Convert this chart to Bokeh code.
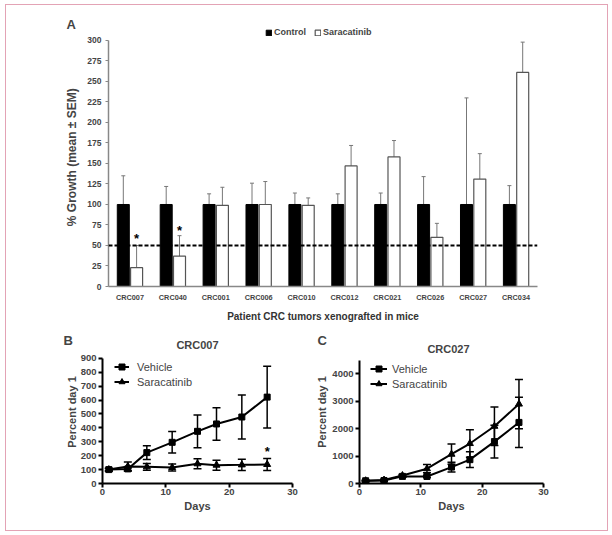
from bokeh.plotting import figure
from bokeh.models import (FactorRange, Range1d, ColumnDataSource, Whisker, TeeHead,
                          Span, Legend, LegendItem, Label, FixedTicker)
from bokeh.transform import dodge
from bokeh.layouts import column, row
from bokeh.embed import file_html
from bokeh.resources import INLINE
from bokeh.core.properties import value

# ---------------- data: panel A ----------------
tumors = ["CRC007", "CRC040", "CRC001", "CRC006", "CRC010",
          "CRC012", "CRC021", "CRC026", "CRC027", "CRC034"]
control_mean = [100, 100, 100, 100, 100, 100, 100, 100, 100, 100]
control_upper = [135, 122, 113, 126, 114, 113, 114, 134, 230, 123]
sara_mean = [23, 37, 99, 100, 99, 147, 158, 60, 131, 261]
sara_upper = [50, 62, 121, 128, 108, 172, 178, 77, 162, 298]
threshold = 50
sig_tumors = ["CRC007", "CRC040"]
sig_y = [58, 68]
a_yticks = [0, 25, 50, 75, 100, 125, 150, 175, 200, 225, 250, 275, 300]

# ---------------- data: panels B and C ----------------
days = [1, 4, 7, 11, 15, 18, 22, 26]
b_veh = [100, 105, 222, 296, 375, 428, 478, 621]
b_veh_err = [10, 15, 50, 77, 118, 117, 158, 222]
b_sara = [100, 123, 120, 115, 142, 132, 134, 137]
b_sara_err = [8, 32, 24, 25, 36, 36, 40, 43]
b_sig_day = [26]
b_sig_y = [232]
b_yticks = [0, 100, 200, 300, 400, 500, 600, 700, 800, 900]

c_veh = [100, 110, 260, 257, 600, 870, 1530, 2230]
c_veh_err = [20, 20, 30, 40, 180, 290, 600, 920]
c_sara = [100, 125, 290, 540, 1070, 1460, 2090, 2900]
c_sara_err = [20, 30, 40, 150, 370, 500, 700, 900]
c_yticks = [0, 1000, 2000, 3000, 4000]
day_ticks = [0, 10, 20, 30]

FONT = "Liberation Sans"

# ---------------- panel A ----------------
srcA = ColumnDataSource(dict(tumor=tumors, control=control_mean, control_upper=control_upper,
                             sara=sara_mean, sara_upper=sara_upper))
# the frame reaches a little above 300 so that the legend fits inside it;
# the axis itself stops at 300
pA = figure(width=601, height=320, x_range=FactorRange(*tumors), y_range=Range1d(0, 319.5),
            output_backend="svg", toolbar_location=None,
            min_border_left=102, min_border_right=70, min_border_top=19, min_border_bottom=39)
pA.outline_line_color = None
pA.grid.grid_line_color = None

off = 0.155
rc = pA.vbar(x=dodge("tumor", -off, range=pA.x_range), top="control", width=0.28, source=srcA,
             fill_color="black", line_color="black")
rs = pA.vbar(x=dodge("tumor", off, range=pA.x_range), top="sara", width=0.28, source=srcA,
             fill_color="white", line_color="#555555", line_width=1.2)
for base_off, lo, up in [(-off, "control", "control_upper"), (off, "sara", "sara_upper")]:
    w = Whisker(source=srcA, base=dodge("tumor", base_off, range=pA.x_range), lower=lo, upper=up,
                line_color="#777777", line_width=1,
                upper_head=TeeHead(size=4, line_color="#777777", line_width=1), lower_head=None)
    pA.add_layout(w)

pA.add_layout(Span(location=threshold, dimension="width", line_color="black",
                   line_width=2, line_dash="4 2"))

srcSig = ColumnDataSource(dict(t=sig_tumors, y=sig_y, s=["*"] * len(sig_tumors)))
pA.text(x=dodge("t", off, range=pA.x_range), y="y", text="s", source=srcSig,
        text_font=value(FONT), text_font_style="bold", text_font_size="13px",
        text_align="center", text_baseline="middle", text_color="black")

legA = Legend(items=[LegendItem(label="Control", renderers=[rc]),
                     LegendItem(label="Saracatinib", renderers=[rs])],
              orientation="horizontal", location=(157, 249), margin=0, padding=0,
              glyph_width=7, glyph_height=7, label_standoff=2, spacing=8,
              label_text_font=FONT, label_text_font_style="bold", label_text_font_size="9px",
              label_height=8, border_line_color=None, background_fill_alpha=0)
pA.add_layout(legA)

pA.title.text = "A"
pA.title.align = "left"
pA.title.offset = -42
pA.title.standoff = -15
pA.title.text_font = FONT
pA.title.text_font_style = "bold"
pA.title.text_font_size = "13px"

pA.yaxis.ticker = FixedTicker(ticks=a_yticks)
pA.yaxis.bounds = (0, 300)
pA.yaxis.axis_label = "%  Growth (mean \u00b1 SEM)"
pA.xaxis.axis_label = "Patient CRC tumors xenografted in mice"
for ax in (pA.xaxis, pA.yaxis):
    ax.axis_line_color = "#888888"
    ax.axis_line_width = 1.5
    ax.major_label_text_font = FONT
    ax.major_label_text_font_style = "bold"
    ax.axis_label_text_font = FONT
    ax.axis_label_text_font_style = "bold"
    ax.minor_tick_line_color = None
    ax.minor_tick_out = 0
    ax.minor_tick_in = 0
pA.yaxis.major_tick_out = 3
pA.yaxis.major_tick_in = 0
pA.yaxis.major_tick_line_color = "#888888"
pA.yaxis.major_label_text_font_size = "8.5px"
pA.yaxis.major_label_standoff = 4
pA.yaxis.axis_label_text_font_size = "12px"
pA.yaxis.axis_label_standoff = 5
pA.xaxis.major_tick_line_color = None
pA.xaxis.major_tick_out = 0
pA.xaxis.major_tick_in = 0
pA.xaxis.major_label_text_font_size = "7.3px"
pA.xaxis.major_label_standoff = 6
pA.xaxis.axis_label_text_font_size = "10px"
pA.xaxis.axis_label_text_color = "#333333"
pA.xaxis.axis_label_standoff = 6


def growth_panel(width, mb_left, mb_right, mb_bottom, veh, veh_err, sara, sara_err,
                 ymax, yspan, yticks, title, title_xy, letter, letter_off, leg_loc,
                 glyph_w, standoff, ylab_standoff):
    # frame extends above the axis top so the chart name sits inside it
    p = figure(width=width, height=205, x_range=Range1d(0, 30), y_range=Range1d(0, yspan),
               output_backend="svg", toolbar_location=None,
               min_border_left=mb_left, min_border_right=mb_right,
               min_border_top=15, min_border_bottom=mb_bottom)
    p.outline_line_color = None
    p.grid.grid_line_color = None
    src = ColumnDataSource(dict(d=days, veh=veh, sara=sara,
                                veh_lo=[m - e for m, e in zip(veh, veh_err)],
                                veh_hi=[m + e for m, e in zip(veh, veh_err)],
                                sara_lo=[m - e for m, e in zip(sara, sara_err)],
                                sara_hi=[m + e for m, e in zip(sara, sara_err)]))
    for lo, hi in [("veh_lo", "veh_hi"), ("sara_lo", "sara_hi")]:
        p.add_layout(Whisker(source=src, base="d", lower=lo, upper=hi, line_color="black",
                             line_width=1.5,
                             upper_head=TeeHead(size=8, line_color="black", line_width=1.5),
                             lower_head=TeeHead(size=8, line_color="black", line_width=1.5)))
    l1 = p.line("d", "veh", source=src, line_color="black", line_width=2)
    m1 = p.scatter("d", "veh", source=src, marker="square", size=6, color="black")
    l2 = p.line("d", "sara", source=src, line_color="black", line_width=2)
    m2 = p.scatter("d", "sara", source=src, marker="triangle", size=7, color="black")
    leg = Legend(items=[LegendItem(label="Vehicle", renderers=[l1, m1]),
                        LegendItem(label="Saracatinib", renderers=[l2, m2])],
                 location=leg_loc, margin=0, padding=0, spacing=0,
                 glyph_width=glyph_w, glyph_height=15, label_height=15, label_standoff=standoff,
                 label_text_font=FONT, label_text_font_size="11px",
                 border_line_color=None, background_fill_alpha=0)
    p.add_layout(leg)
    p.add_layout(Label(x=title_xy[0], y=title_xy[1], x_units="screen", y_units="screen",
                       text=title, text_align="center", text_baseline="middle",
                       text_font=FONT, text_font_style="bold", text_font_size="11px"))
    p.title.text = letter
    p.title.align = "left"
    p.title.offset = letter_off
    p.title.standoff = -15
    p.title.text_font = FONT
    p.title.text_font_style = "bold"
    p.title.text_font_size = "13px"
    p.xaxis.ticker = FixedTicker(ticks=day_ticks)
    p.yaxis.ticker = FixedTicker(ticks=yticks)
    p.yaxis.bounds = (0, ymax)
    p.xaxis.axis_label = "Days"
    p.yaxis.axis_label = "Percent day 1"
    for ax in (p.xaxis, p.yaxis):
        ax.axis_line_color = "black"
        ax.axis_line_width = 2
        ax.major_tick_line_color = "black"
        ax.major_tick_line_width = 2
        ax.major_tick_out = 4
        ax.major_tick_in = 0
        ax.minor_tick_line_color = None
        ax.minor_tick_out = 0
        ax.minor_tick_in = 0
        ax.major_label_text_font = FONT
        ax.major_label_text_font_style = "bold"
        ax.major_label_text_font_size = "9.5px"
        ax.axis_label_text_font = FONT
        ax.axis_label_text_font_style = "bold"
        ax.axis_label_text_font_size = "11px"
    p.xaxis.major_label_standoff = 1
    p.xaxis.axis_label_standoff = 2
    p.yaxis.major_label_standoff = 2
    p.yaxis.axis_label_standoff = ylab_standoff
    return p


pB = growth_panel(302, 96, 16, 45, b_veh, b_veh_err, b_sara, b_sara_err, 900, 1028, b_yticks,
                  "CRC007", (95, 139), "B", -39, (12, 94), 15, 8, 0)
srcB = ColumnDataSource(dict(d=b_sig_day, y=b_sig_y, s=["*"]))
pB.text(x="d", y="y", text="s", source=srcB, text_font=value(FONT), text_font_style="bold",
        text_font_size="13px", text_align="center", text_baseline="middle")

pC = growth_panel(299, 51, 64, 47, c_veh, c_veh_err, c_sara, c_sara_err, 4500, 5221, c_yticks,
                  "CRC027", (89, 135), "C", -42, (11, 92), 17, 5, 1)

layout = column(pA, row(pB, pC), margin=(4, 0, 0, 5), styles={"border": "1px solid #e3a3b5"})
open("out.html", "w").write(file_html(layout, INLINE))
